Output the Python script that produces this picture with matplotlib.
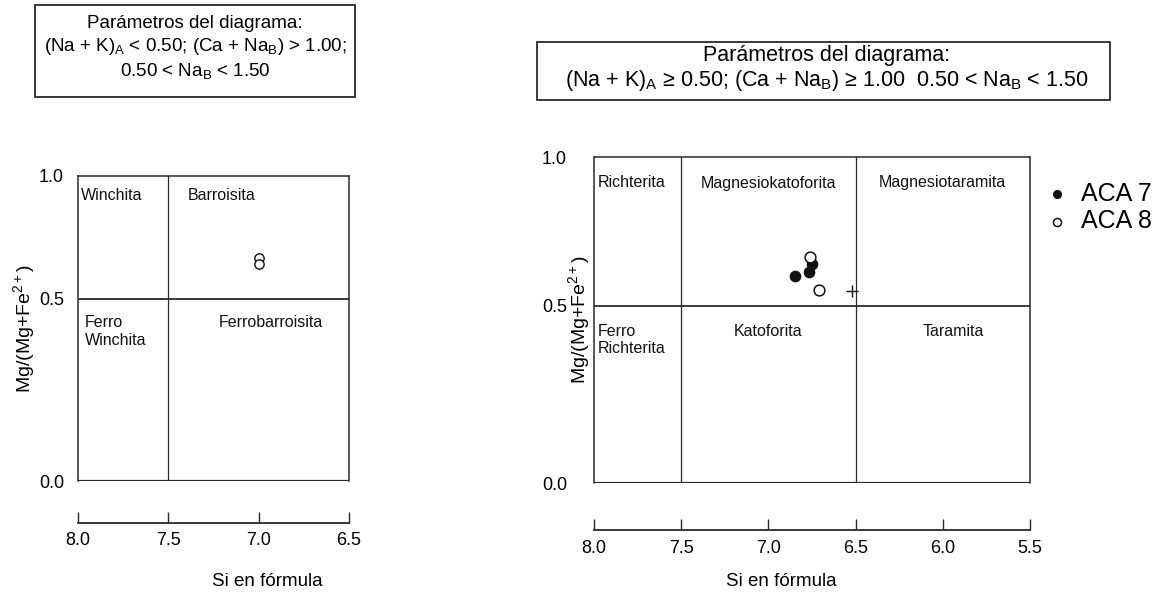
import numpy as np
import matplotlib.pyplot as plt
from matplotlib.patches import Rectangle

plt.rcParams['font.family'] = ['Liberation Sans', 'DejaVu Sans']
plt.rcParams['mathtext.fontset'] = 'custom'
plt.rcParams['mathtext.rm'] = 'Liberation Sans'
plt.rcParams['mathtext.it'] = 'Liberation Sans:italic'

# tick values
left_xticks = [8.0, 7.5, 7.0, 6.5]
right_xticks = [8.0, 7.5, 7.0, 6.5, 6.0, 5.5]
yticks = [0.0, 0.5, 1.0]

# left diagram: (Na+K)A < 0.50
left_aca8_si = [7.0, 7.0]
left_aca8_mg = [0.668, 0.643]

# right diagram: (Na+K)A >= 0.50
aca7_si = [6.85, 6.77, 6.75]
aca7_mg = [0.60, 0.615, 0.64]
aca8_si = [6.76, 6.71]
aca8_mg = [0.665, 0.555]
cross_si = [6.52]
cross_mg = [0.55]

left_fields = [
    ("Winchita", 7.985, 0.92, 'left'),
    ("Barroisita", 7.39, 0.92, 'left'),
    ("Ferro\nWinchita", 7.96, 0.41, 'left'),
    ("Ferrobarroisita", 6.93, 0.434, 'center'),
]
right_fields = [
    ("Richterita", 7.98, 0.913, 'left'),
    ("Magnesiokatoforita", 7.0, 0.91, 'center'),
    ("Magnesiotaramita", 6.0, 0.915, 'center'),
    ("Ferro\nRichterita", 7.98, 0.404, 'left'),
    ("Katoforita", 7.0, 0.427, 'center'),
    ("Taramita", 5.94, 0.427, 'center'),
]

line_c = '#2a2a2a'


def half_scale(a):
    # schematic diagram: the 0.5 line is not at mid height
    def fwd(y):
        y = np.asarray(y, dtype=float)
        return np.where(y <= 0.5, y / 0.5 * a, a + (y - 0.5) / 0.5 * (1 - a))

    def inv(t):
        t = np.asarray(t, dtype=float)
        return np.where(t <= a, t / a * 0.5, 0.5 + (t - a) / (1 - a) * 0.5)
    return fwd, inv


def setup(ax, xmin, xmax, xticks, a, vlines, fields, outward, ypad):
    ax.set_yscale('function', functions=half_scale(a))
    ax.set_xlim(xmin, xmax)
    ax.set_ylim(0, 1)
    for s in ['top', 'left', 'right']:
        ax.spines[s].set_color(line_c)
        ax.spines[s].set_linewidth(1.1)
    ax.spines['bottom'].set_position(('outward', outward))
    ax.spines['bottom'].set_color(line_c)
    ax.spines['bottom'].set_linewidth(1.3)
    ax.axhline(0, color=line_c, lw=1.6)
    ax.axhline(0.5, color=line_c, lw=1.3)
    for v in vlines:
        ax.axvline(v, color=line_c, lw=0.9)
    ax.set_xticks(xticks)
    ax.set_xticklabels([f"{t:.1f}" for t in xticks])
    ax.set_yticks(yticks)
    ax.set_yticklabels([f"{t:.1f}" for t in yticks])
    ax.tick_params(axis='x', direction='in', length=8, width=1, color=line_c,
                   labelsize=13, pad=7)
    ax.tick_params(axis='y', length=0, labelsize=13, pad=ypad)
    ax.minorticks_off()
    for txt, x, y, ha in fields:
        ax.text(x, y, txt, fontsize=11.5, ha=ha, va='center', color='#111111',
                linespacing=1.2)
    ax.set_xlabel("Si en fórmula", fontsize=13.5)
    ax.set_ylabel("Mg/(Mg+Fe$^{2+}$)", fontsize=14)


fig = plt.figure(figsize=(11.68, 5.96), dpi=100)
ax1 = fig.add_axes([78 / 1168, 1 - 481 / 596, 271 / 1168, 305 / 596])
ax2 = fig.add_axes([594 / 1168, 1 - 483 / 596, 436 / 1168, 326 / 596])

setup(ax1, 8.0, 6.5, left_xticks, 0.597, [7.5], left_fields, 30, 10)
setup(ax2, 8.0, 5.5, right_xticks, 0.543, [7.5, 6.5], right_fields, 34, 19.5)

ax1.xaxis.set_label_coords(0.70, -0.30)
ax1.yaxis.set_label_coords(-0.15, 0.5)
ax2.xaxis.set_label_coords(0.43, -0.276)
ax2.yaxis.set_label_coords(-0.004, 0.5)

ax1.scatter(left_aca8_si, left_aca8_mg, s=45, facecolors='white',
            edgecolors='#111111', linewidths=1.0, zorder=3)

ax2.scatter(aca7_si, aca7_mg, s=55, color='#111111', zorder=3, label='ACA 7')
ax2.scatter(aca8_si, aca8_mg, s=60, facecolors='white', edgecolors='#111111',
            linewidths=1.1, zorder=3, label='ACA 8')
ax2.scatter(cross_si, cross_mg, marker='+', s=70, color='#111111',
            linewidths=1.0, zorder=3)

ax2.legend(loc='upper left', bbox_to_anchor=(1.02, 0.955), frameon=False,
           fontsize=18, handletextpad=0.6, labelspacing=0.15, markerscale=0.75,
           handlelength=0.7, borderaxespad=0)

# boxed parameter titles
fig.patches.append(Rectangle((35 / 1168, 1 - 97 / 596), 320 / 1168, 92 / 596,
                             transform=fig.transFigure, fill=False,
                             edgecolor=line_c, lw=1.3))
fig.text(195 / 1168, 1 - 48 / 596,
         "Parámetros del diagrama:\n(Na + K)$_\\mathrm{A}$ < 0.50; (Ca + Na$_\\mathrm{B}$) > 1.00;\n0.50 < Na$_\\mathrm{B}$ < 1.50",
         ha='center', va='center', fontsize=13.5, linespacing=1.25)

fig.patches.append(Rectangle((537 / 1168, 1 - 100 / 596), 573 / 1168, 58 / 596,
                             transform=fig.transFigure, fill=False,
                             edgecolor=line_c, lw=1.3))
fig.text(827 / 1168, 1 - 69 / 596,
         "Parámetros del diagrama:\n(Na + K)$_\\mathrm{A}$ ≥ 0.50; (Ca + Na$_\\mathrm{B}$) ≥ 1.00  0.50 < Na$_\\mathrm{B}$ < 1.50",
         ha='center', va='center', fontsize=15.5, linespacing=1.15)

fig.savefig('out.png', dpi=100)
